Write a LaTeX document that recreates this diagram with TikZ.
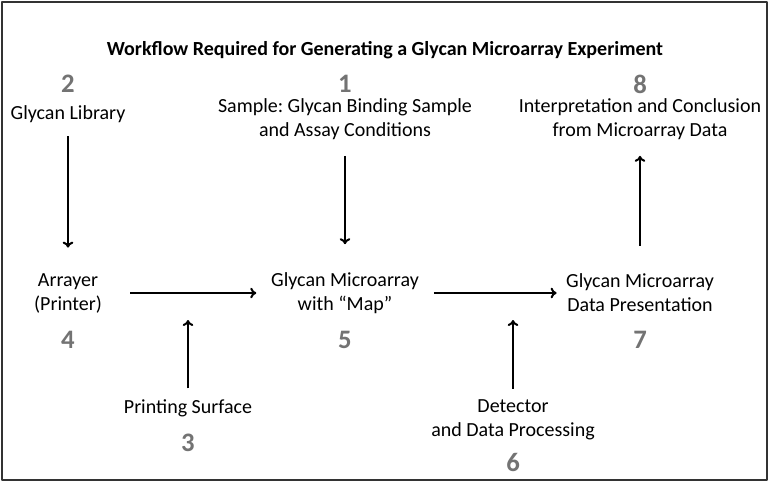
\documentclass[tikz,border=0pt]{standalone}
\usepackage{fontspec}
\setmainfont{Carlito}
\usepackage{tikz}
\usetikzlibrary{arrows.meta}
\frenchspacing

\tikzset{
  step text/.style={font=\fontsize{15}{18}\selectfont, align=center, inner sep=0pt},
  step num/.style={font=\fontsize{20}{22}\selectfont\bfseries, text=black!55, inner sep=0pt},
  flow/.style={-{To[length=4.5pt,width=8pt]}, line width=1.5pt, black}
}

\begin{document}
\begin{tikzpicture}[x=0.75pt, y=-0.75pt, line join=round]
% frame
\useasboundingbox (0,0) rectangle (770,483);
\draw[gray!40!black, line width=1.2pt] (2,2) rectangle (767,480);
% title
\node[font=\fontsize{15}{17}\selectfont\bfseries] (title) at (385,50) {Workflow Required for Generating a Glycan Microarray Experiment};
% top row
\node[step num] (n2) at (68,84) {2};
\node[step text] (library) at (68,114) {Glycan Library};
\node[step num] (n1) at (345,84) {1};
\node[step text] (sample) at (345,119) {Sample: Glycan Binding Sample\\and Assay Conditions};
\node[step num] (n8) at (640,84) {8};
\node[step text] (interp) at (640,119) {Interpretation and Conclusion\\from Microarray Data};
% middle row
\node[step text] (arrayer) at (68,293) {Arrayer\\(Printer)};
\node[step num] (n4) at (68,340) {4};
\node[step text] (glycanmap) at (345,293) {Glycan Microarray\\with ``Map''};
\node[step num] (n5) at (345,340) {5};
\node[step text] (present) at (640,293) {Glycan Microarray\\Data Presentation};
\node[step num] (n7) at (640,340) {7};
% bottom row
\node[step text] (surface) at (188,408) {Printing Surface};
\node[step num] (n3) at (188,443) {3};
\node[step text] (detector) at (513,420) {Detector\\and Data Processing};
\node[step num] (n6) at (513,462) {6};
% free ends of the side arrows
\coordinate (join45) at (188,320);
\coordinate (join57) at (513,320);
% arrows
\draw[flow, shorten <=10pt, shorten >=19pt] (library) -- (arrayer);
\draw[flow, shorten <=12pt, shorten >=21pt] (sample) -- (glycanmap);
\draw[flow, shorten <=21pt, shorten >=12pt] (present) -- (interp);
\draw[flow, shorten <=21pt, shorten >=11pt] (arrayer) -- (glycanmap);
\draw[flow, shorten <=11pt, shorten >=7pt] (glycanmap) -- (present);
\draw[flow, shorten <=8pt] (surface) -- (join45);
\draw[flow, shorten <=8pt] (detector) -- (join57);
\end{tikzpicture}
\end{document}
